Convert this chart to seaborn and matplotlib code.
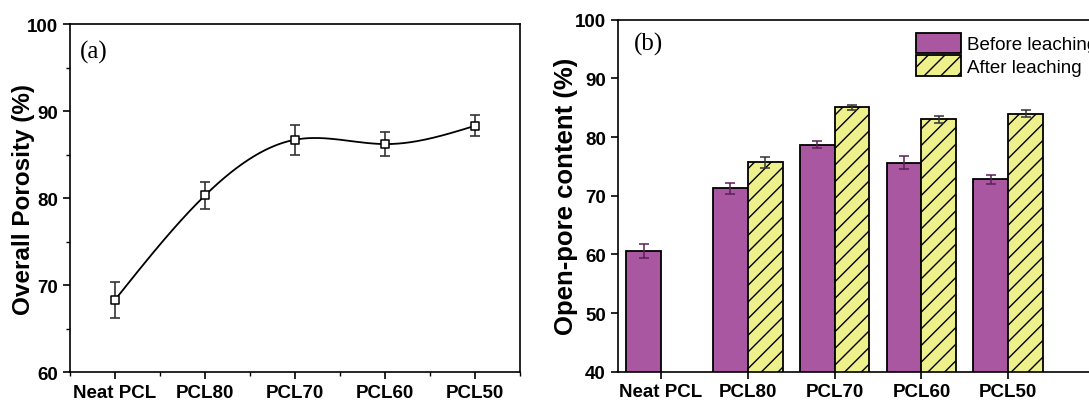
import numpy as np
import pandas as pd

import matplotlib
matplotlib.use('Agg')
import matplotlib.pyplot as plt
from matplotlib.patches import Patch
from matplotlib.ticker import MultipleLocator
import seaborn as sns

samples = ['Neat PCL', 'PCL80', 'PCL70', 'PCL60', 'PCL50']

# (a) overall porosity
porosity = [68.3, 80.3, 86.7, 86.2, 88.3]
porosity_err = [2.1, 1.55, 1.7, 1.35, 1.2]

# (b) open-pore content
states = ['Before leaching', 'After leaching']
before = [60.6, 71.25, 78.7, 75.6, 72.8]
before_err = [1.25, 0.9, 0.6, 1.1, 0.8]
after = [np.nan, 75.7, 85.05, 83.0, 84.0]
after_err = [np.nan, 0.95, 0.4, 0.55, 0.65]

purple = '#A857A0'
yellow = '#EEF08C'


def natural_spline(x, y, n=300):
  # natural cubic spline, just for the smooth connecting line
  x = np.asarray(x, float)
  y = np.asarray(y, float)
  k = len(x)
  h = np.diff(x)
  A = np.zeros((k, k))
  b = np.zeros(k)
  A[0, 0] = A[-1, -1] = 1
  for i in range(1, k - 1):
    A[i, i - 1] = h[i - 1]
    A[i, i] = 2 * (h[i - 1] + h[i])
    A[i, i + 1] = h[i]
    b[i] = 3 * ((y[i + 1] - y[i]) / h[i] - (y[i] - y[i - 1]) / h[i - 1])
  c = np.linalg.solve(A, b)
  xs = np.linspace(x[0], x[-1], n)
  ys = np.empty_like(xs)
  for j, xv in enumerate(xs):
    i = min(np.searchsorted(x, xv, side='right') - 1, k - 2)
    dx = xv - x[i]
    bi = (y[i + 1] - y[i]) / h[i] - h[i] * (2 * c[i] + c[i + 1]) / 3
    di = (c[i + 1] - c[i]) / (3 * h[i])
    ys[j] = y[i] + bi * dx + c[i] * dx ** 2 + di * dx ** 3
  return xs, ys


sns.set_style('ticks')
plt.rcParams['font.family'] = ['Liberation Sans', 'DejaVu Sans']
plt.rcParams['text.color'] = 'black'
plt.rcParams['axes.labelcolor'] = 'black'
plt.rcParams['axes.edgecolor'] = 'black'
plt.rcParams['xtick.color'] = 'black'
plt.rcParams['ytick.color'] = 'black'
plt.rcParams['axes.linewidth'] = 1.2
plt.rcParams['xtick.major.width'] = 1.2
plt.rcParams['ytick.major.width'] = 1.2
plt.rcParams['xtick.minor.width'] = 1.0
plt.rcParams['ytick.minor.width'] = 1.0
plt.rcParams['hatch.linewidth'] = 1.0

fig = plt.figure(figsize=(10.89, 4.02), dpi=100)
ax1 = fig.add_axes([0.0643, 0.0721, 0.4132, 0.8657])
ax2 = fig.add_axes([0.5672, 0.0729, 0.4383, 0.8756])

# ---- (a)
pos = np.arange(len(samples))
xs, ys = natural_spline(pos, porosity)
sns.lineplot(x=xs, y=ys, color='black', linewidth=1.3, ax=ax1)
ax1.errorbar(pos, porosity, yerr=porosity_err, fmt='none', ecolor='#333333',
             elinewidth=1.2, capsize=3.5, capthick=1.2, zorder=3)
sns.scatterplot(x=pos, y=porosity, marker='s', s=40, facecolor='white',
                edgecolor='black', linewidth=1.1, ax=ax1, zorder=4)
ax1.set_xlim(-0.5, 4.5)
ax1.set_ylim(60, 100)
ax1.set_xticks(pos)
ax1.set_xticklabels(samples)
ax1.xaxis.set_minor_locator(MultipleLocator(0.5))
ax1.yaxis.set_major_locator(MultipleLocator(10))
ax1.yaxis.set_minor_locator(MultipleLocator(5))
ax1.set_ylabel('Overall Porosity (%)', fontsize=17.5, fontweight='bold')
ax1.yaxis.set_label_coords(-0.078, 0.5)
ax1.text(0.022, 0.955, '(a)', transform=ax1.transAxes, ha='left', va='top',
         fontsize=18, family='Liberation Serif')

# ---- (b)
df = pd.DataFrame({
  'sample': samples * 2,
  'state': [states[0]] * len(samples) + [states[1]] * len(samples),
  'value': before + after,
  'err': before_err + after_err,
})
sns.barplot(data=df, x='sample', y='value', hue='state', order=samples,
            hue_order=states, palette=[purple, yellow], errorbar=None,
            width=0.8, edgecolor='black', linewidth=1.3, saturation=1,
            legend=False, ax=ax2)

for container, state in zip(ax2.containers, states):
  sub = df[df.state == state].dropna()
  for bar, (_, row) in zip(container, sub.iterrows()):
    if state == states[1]:
      bar.set_hatch('//')
    cx = bar.get_x() + bar.get_width() / 2
    ax2.errorbar(cx, row['value'], yerr=row['err'], fmt='none',
                 ecolor='#5a1f55' if state == states[0] else '#333333',
                 elinewidth=1.1, capsize=3.5, capthick=1.1, zorder=5)

ax2.set_xlim(-0.5, 5.0)
ax2.set_ylim(40, 100)
ax2.yaxis.set_major_locator(MultipleLocator(10))
ax2.set_xlabel('')
ax2.set_ylabel('Open-pore content (%)', fontsize=18.5, fontweight='bold')
ax2.yaxis.set_label_coords(-0.083, 0.5)
ax2.text(0.034, 0.965, '(b)', transform=ax2.transAxes, ha='left', va='top',
         fontsize=18, family='Liberation Serif')

handles = [Patch(facecolor=purple, edgecolor='black', linewidth=1.3),
           Patch(facecolor=yellow, edgecolor='black', linewidth=1.3, hatch='//')]
ax2.legend(handles, states, loc='upper left', bbox_to_anchor=(0.597, 1.0),
           frameon=False, fontsize=13.5, handlelength=2.4, handleheight=1.3,
           handletextpad=0.35, labelspacing=0.1, borderpad=0.2)

for ax in (ax1, ax2):
  for s in ax.spines.values():
    s.set_visible(True)
    s.set_linewidth(1.2)
  ax.tick_params(axis='both', which='major', direction='out', length=5,
                 labelsize=13.5, top=False, right=False)
  ax.tick_params(axis='both', which='minor', direction='out', length=3,
                 top=False, right=False)
  for lab in ax.get_xticklabels() + ax.get_yticklabels():
    lab.set_fontweight('bold')

plt.savefig('out.png', dpi=100)
plt.close()
